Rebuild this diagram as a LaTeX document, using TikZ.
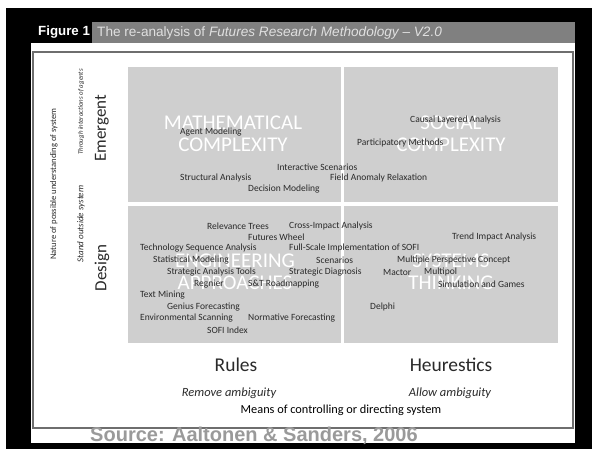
\documentclass[tikz,border=0pt]{standalone}
\usepackage{fontspec}
\setmainfont{Carlito}
\newfontfamily\arialfont{Liberation Sans}
\usepackage{tikz}
\definecolor{quadgray}{HTML}{CFCFCF}
\definecolor{bargray}{HTML}{808080}
\definecolor{framegray}{HTML}{6E6E6E}
\definecolor{ink}{HTML}{2A2A2A}
\definecolor{sourcegray}{HTML}{9A9A9A}

\begin{document}
\begin{tikzpicture}[x=1pt,y=-1pt,
    method/.style={right,inner sep=0pt,text=ink,font=\fontsize{9.5}{10}\selectfont},
    field/.style={inner sep=0pt,align=center,text=white,font=\fontsize{21}{22}\selectfont},
    axis/.style={inner sep=0pt,text=ink,rotate=90},
    mode/.style={inner sep=0pt,text=ink,font=\fontsize{19.5}{20}\selectfont},
    hint/.style={inner sep=0pt,text=ink,font=\itshape\fontsize{12.5}{13}\selectfont}]
    \useasboundingbox (0,0) rectangle (592,449);
    \fill[black] (6,8) rectangle (592,449);
    \fill[white] (31,22) rectangle (575,443);
    \fill[black] (31,22) rectangle (92,43);
    \fill[bargray] (92,22) rectangle (575,43);
    \draw[framegray,line width=1.5pt] (33,52) rectangle (573,428);
    \fill[quadgray] (128,67) rectangle (341,202);
    \fill[quadgray] (344,67) rectangle (558,202);
    \fill[quadgray] (128,206) rectangle (341,343);
    \fill[quadgray] (344,206) rectangle (558,343);

    \draw node at (38,32.5)[name=fig,right,inner sep=0pt,text=white,font=\arialfont\bfseries\fontsize{13.3}{14}\selectfont]{Figure 1};
    \draw node at (97,32.5)[name=title,right,inner sep=0pt,text=white!88!black,font=\arialfont\fontsize{13.6}{14}\selectfont]{The re-analysis of \textit{Futures Research Methodology \textendash{} V2.0}};

    \draw node at (233,134)[name=math,field]{MATHEMATICAL\\COMPLEXITY};
    \draw node at (451,134)[name=social,field]{SOCIAL\\COMPLEXITY};
    \draw node at (235,272)[name=eng,field]{ENGINEERING\\APPROACHES};
    \draw node at (451,272)[name=sys,field]{SYSTEMS\\THINKING};

    % emergent side
    \draw node at (180,132)[name=agent,method]{Agent Modeling};
    \draw node at (277,167)[name=interactive,method]{Interactive Scenarios};
    \draw node at (180,178)[name=structural,method]{Structural Analysis};
    \draw node at (330,178)[name=anomaly,method]{Field Anomaly Relaxation};
    \draw node at (248,189)[name=decision,method]{Decision Modeling};
    \draw node at (410,120)[name=causal,method]{Causal Layered Analysis};
    \draw node at (357,143)[name=particip,method]{Participatory Methods};

    % design side
    \draw node at (207,226)[name=relevance,method]{Relevance Trees};
    \draw node at (289,226)[name=crossimpact,method]{Cross-Impact Analysis};
    \draw node at (248,237)[name=wheel,method]{Futures Wheel};
    \draw node at (140,248)[name=techseq,method]{Technology Sequence Analysis};
    \draw node at (289,248)[name=sofi,method]{Full-Scale Implementation of SOFI};
    \draw node at (153,260)[name=statistical,method]{Statistical Modeling};
    \draw node at (316,260)[name=scenarios,method]{Scenarios};
    \draw node at (167,272)[name=tools,method]{Strategic Analysis Tools};
    \draw node at (289,272)[name=diagnosis,method]{Strategic Diagnosis};
    \draw node at (194,284)[name=regnier,method]{Regnier};
    \draw node at (248,284)[name=roadmap,method]{S\&T Roadmapping};
    \draw node at (140,295)[name=textmining,method]{Text Mining};
    \draw node at (167,307)[name=genius,method]{Genius Forecasting};
    \draw node at (140,318)[name=envscan,method]{Environmental Scanning};
    \draw node at (248,318)[name=normative,method]{Normative Forecasting};
    \draw node at (207,330)[name=sofiindex,method]{SOFI Index};
    \draw node at (452,237)[name=trend,method]{Trend Impact Analysis};
    \draw node at (397,260)[name=perspective,method]{Multiple Perspective Concept};
    \draw node at (383,272)[name=mactor,method]{Mactor};
    \draw node at (424,272)[name=multipol,method]{Multipol};
    \draw node at (438,284)[name=simulation,method]{Simulation and Games};
    \draw node at (370,307)[name=delphi,method]{Delphi};

    % axes
    \draw node at (54,184)[name=nature,axis,font=\fontsize{8.6}{9}\selectfont]{Nature of possible understanding of system};
    \draw node at (81,112)[name=through,axis,font=\itshape\fontsize{6.9}{7}\selectfont]{Through interactions of agents};
    \draw node at (81,224)[name=outside,axis,font=\itshape\fontsize{9}{9}\selectfont]{Stand outside system};
    \draw node at (102,128)[name=emergent,axis,font=\fontsize{17}{18}\selectfont]{Emergent};
    \draw node at (102,268)[name=design,axis,font=\fontsize{17}{18}\selectfont]{Design};

    \draw node at (236,365)[name=rules,mode]{Rules};
    \draw node at (451,365)[name=heur,mode]{Heurestics};
    \draw node at (229,393)[name=remove,hint]{Remove ambiguity};
    \draw node at (450,393)[name=allow,hint]{Allow ambiguity};
    \draw node at (341,410)[name=means,inner sep=0pt,text=black,font=\fontsize{12.3}{13}\selectfont]{Means of controlling or directing system};

    \draw node at (254,436)[name=source,inner sep=0pt,text=sourcegray,font=\arialfont\bfseries\fontsize{20}{20}\selectfont]{Source: Aaltonen \& Sanders, 2006};
  \end{tikzpicture}
\end{document}
